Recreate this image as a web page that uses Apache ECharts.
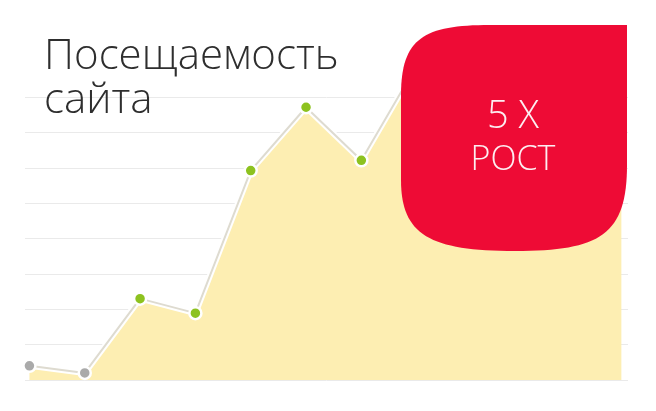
<!DOCTYPE html>
<html><head><meta charset="utf-8">
<script src="https://cdn.jsdelivr.net/npm/echarts@6/dist/echarts.min.js"></script>
<style>html,body{margin:0;padding:0;background:#fff}#c{width:656px;height:411px}</style>
</head><body><div id="c"></div>
<script>
// x positions (step index) and visit values (grid units)
const xIndex = [0, 1, 2, 3, 4, 5, 6, 7, 8, 9, 10, 10.7];
const visits = [0.40, 0.20, 2.30, 1.89, 5.92, 7.71, 6.21, 8.9, 7.9, 8.6, 9.3, 9.5];
const yTicks = [0, 1, 2, 3, 4, 5, 6, 7, 8];
const titleText = 'Посещаемость\nсайта';
const badgeTop = '5 X';
const badgeBottom = 'РОСТ';

const pts = xIndex.map((x, i) => [x, visits[i]]);
const badgePath = 'M627 25 L627 165 C627 235 600 251 515 251 C430 251 401 235 401 180 L401 95 C401 38 424 25 490 25 Z';
const chart = echarts.init(document.getElementById('c'), null, {renderer: 'canvas'});
chart.setOption({
  animation: false,
  backgroundColor: '#ffffff',
  title: {
    text: titleText, left: 39, top: 30,
    textStyle: {fontFamily: 'Open Sans', fontWeight: 300, fontSize: 42, lineHeight: 44, color: '#2e2e2e'}
  },
  grid: {left: 25, right: 28, top: 97, bottom: 31},
  xAxis: {type: 'value', min: -0.08, max: 10.82, show: false, splitLine: {show: false}},
  yAxis: {
    type: 'value', min: yTicks[0], max: yTicks[yTicks.length - 1], interval: 1,
    axisLabel: {show: false}, axisTick: {show: false}, axisLine: {show: false},
    splitLine: {lineStyle: {color: '#eaeaea', width: 1}}
  },
  series: [
    {
      type: 'line', data: pts, clip: false, symbol: 'none', z: 2,
      lineStyle: {color: '#ffffff', width: 6},
      areaStyle: {color: '#fdeeb2', opacity: 1}
    },
    {
      type: 'line', data: pts, clip: false, z: 3,
      symbol: 'circle', symbolSize: 12,
      lineStyle: {color: '#dedbd0', width: 2},
      itemStyle: {
        color: p => p.dataIndex < 2 ? '#aaaaaa' : '#8dc21f',
        borderColor: '#ffffff', borderWidth: 2.5
      }
    },
    {
      type: 'custom', coordinateSystem: 'none', z: 100, silent: true,
      data: [0],
      renderItem: () => ({
        type: 'group',
        children: [
          {type: 'path', shape: {pathData: badgePath, x: 401, y: 25, width: 226, height: 226, layout: 'cover'}, style: {fill: '#ee0b35'}},
          {type: 'text', x: 513, y: 117, style: {text: badgeTop, fill: '#fdeef1', font: '300 38px "Open Sans"', align: 'center', verticalAlign: 'middle'}},
          {type: 'text', x: 513, y: 160, style: {text: badgeBottom, fill: '#fdeef1', font: '300 34px "Open Sans"', align: 'center', verticalAlign: 'middle'}}
        ]
      })
    }
  ]
});
</script></body></html>
